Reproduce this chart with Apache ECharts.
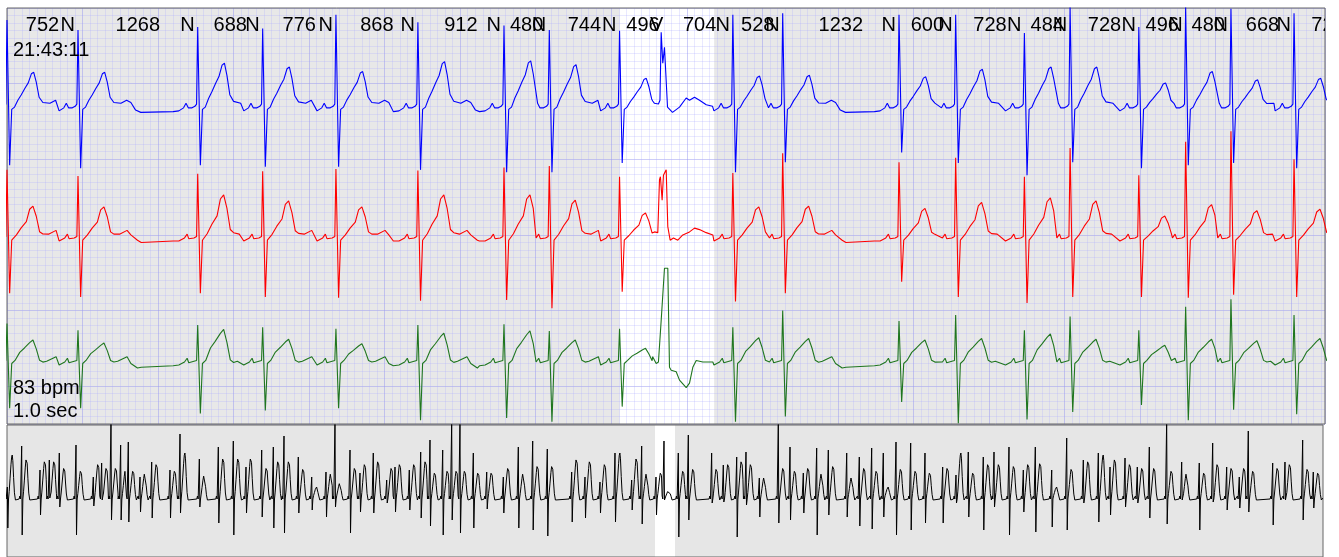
<!DOCTYPE html>
<html><head><meta charset="utf-8">
<script src="https://cdn.jsdelivr.net/npm/echarts@6/dist/echarts.min.js"></script>
<style>html,body{margin:0;padding:0;background:#fff}#c{width:1339px;height:557px}</style>
</head><body><div id="c"></div>
<script>
// ---------------- DATA ----------------
// RR intervals (ms) labelled above each beat; beat 0 sits at t = 0
const rrIntervals = [752, 1268, 688, 776, 868, 912, 480, 744, 496, 704, 528, 1232, 600, 728, 484, 728, 496, 480, 668, 720];
const beatTypes = ['N','N','N','N','N','N','N','N','N','V','N','N','N','N','N','N','N','N','N','N','N'];

// Normal-beat waveform shapes per lead: [ms from R, amplitude in grid boxes]; 'R','S','T' use per-beat values
const blueTemplate = [[-260,-0.6],[-200,-0.5],[-150,-0.1],[-124,0.5],[-100,-0.1],[-60,-0.1],[-30,0.1],[-12,0.4],[0,'R'],[28,'S'],[50,-0.3],[80,0.0],[115,0.9],[150,1.6],[190,2.5],[225,3.2],[258,4.4],[283,'T'],[310,3.3],[340,1.3],[380,0.6],[455,0.5],[515,0.9],[560,0.6],[610,-0.4],[665,-0.7]];
const redTemplate = [[-260,-0.4],[-200,-0.4],[-140,0.0],[-112,0.5],[-95,-0.1],[-40,0.0],[-12,0.2],[0,'R'],[28,'S'],[50,-0.3],[100,0.4],[150,1.3],[205,2.1],[240,3.7],[275,'T'],[310,2.8],[345,0.8],[380,0.5],[440,0.5],[520,1.0],[560,0.4],[630,-0.3],[670,-0.6]];
const greenTemplate = [[-260,-0.6],[-200,-0.5],[-140,-0.1],[-112,0.4],[-95,-0.2],[-40,0.0],[-12,0.1],[0,'R'],[28,'S'],[50,-0.3],[85,0.1],[135,1.0],[185,1.5],[240,2.1],[275,'T'],[310,1.4],[345,0.1],[380,-0.1],[420,0.0],[520,0.6],[560,-0.3],[630,-0.9],[670,-0.8]];
const blueTRef = 4.6, redTRef = 4.1, greenTRef = 2.4;

// Ventricular beat shapes (ms from its annotation time)
const blueVBeat = [[-145,0.8],[-126,0.5],[-84,0.4],[-68,0.9],[-55,9.9],[-38,5.8],[-20,7.9],[-2,7.9],[12,0.0],[65,-0.7],[139,0.0],[210,1.2],[245,0.9],[298,1.3],[351,0.9],[422,0.3],[489,0.1]];
const redVBeat = [[-145,0.4],[-126,0.8],[-91,0.7],[-73,7.7],[-63,8.1],[-45,5.0],[-31,8.3],[-2,9.0],[15,1.5],[40,-0.3],[75,0.0],[121,-0.3],[174,0.4],[245,0.8],[298,1.3],[351,1.1],[422,0.7],[492,0.4]];
const greenVBeat = [[-145,0.6],[-108,-0.3],[-84,-0.1],[-55,5.4],[-20,12.3],[15,12.3],[33,-0.8],[51,-1.2],[104,-1.4],[139,-2.5],[210,-3.5],[245,-2.9],[280,-0.8],[316,0.1],[386,-0.1],[492,-0.1]];

// Per-beat R peak, S trough and T peak (grid boxes); null at the V beat
const blueR = [11.5,10.2,10.6,10.4,12.2,11.2,10.8,10.2,10.1,null,12.2,12.4,12.2,12.2,9.8,13.3,10.6,13.3,13.0,12.4,11.0];
const blueS = [-7.7,-8.1,-7.7,-7.9,-7.9,-8.3,-8.6,-8.6,-7.4,null,-8.6,-7.3,-6.0,-7.4,-9.0,-7.3,-8.1,-7.7,-7.4,-8.1,-8.0];
const blueT = [4.6,4.6,5.8,5.3,4.7,6.0,6.1,5.6,3.8,null,4.1,4.2,4.0,5.0,5.3,5.3,3.2,4.7,3.6,3.8,4.5];
const redR = [9.0,8.2,8.5,8.8,9.1,8.9,9.3,9.5,8.1,null,8.6,11.2,10.0,10.6,8.1,11.9,8.3,12.7,14.1,10.4,9.0];
const redS = [-7.3,-7.8,-7.3,-7.8,-7.9,-8.3,-8.2,-9.3,-7.1,null,-8.4,-7.3,-5.8,-7.8,-8.6,-7.8,-7.8,-7.9,-7.5,-7.8,-7.8];
const redT = [4.2,4.1,5.7,4.9,4.1,5.7,5.7,5.0,3.3,null,4.1,4.2,3.9,4.7,5.3,4.9,2.9,4.4,3.6,3.8,4.2];
const greenR = [5.0,4.1,4.8,4.5,4.3,4.8,4.9,4.0,4.3,null,4.5,6.7,5.3,6.1,4.1,5.9,4.1,7.2,8.2,6.1,5.0];
const greenS = [-6.2,-6.2,-6.9,-6.5,-6.2,-7.8,-7.5,-8.0,-6.0,null,-8.0,-7.3,-5.4,-8.2,-7.7,-6.7,-5.8,-7.8,-6.4,-7.0,-7.0];
const greenT = [2.8,2.4,4.2,2.9,2.3,3.7,4.0,2.8,1.7,null,3.1,3.0,2.8,3.0,3.6,2.9,2.1,2.9,2.7,3.0,2.8];

// Highlighted (ventricular) stretch of the strip, ms
const highlightSpan = [6490, 7490];

// Overview strip: beat times (ms), R, S, T amplitudes
const stripBeatMs = [20,870,1956,2508,3100,4090,5115,5610,6164,6736,7190,7883,8576,9661,10254,11400,12525,13414,14166,15096,15785,16418,17266,18060,18907,19440,20330,20922,21710,22505,22997,23845,24520,25071,25824,26357,26849,27639,28433,29417,30306,31158,32024,33470,34258,35147,36036,37025,37618,38466,38940,39789,40382,41765,42456,43250,43800,44590,45716,46410,47198,47990,48680,49770,50517,51250,51938,52692,53562,54410,55458,56247,56976,57865,58500,59389,60238,60949,61921,62810,63794,64683,65377,66266,66994,67706,68734,69624,70667,71461,72291,73038,73572,75018,75746,76795,77424];
const stripR = [1.0,5.1,2.7,3.7,4.4,5.2,2.0,3.4,7.6,5.2,5.5,2.0,3.5,2.7,6.3,3.8,5.0,5.6,3.0,4.7,5.0,6.1,4.0,2.0,2.5,7.6,4.7,2.4,4.4,1.7,3.0,2.7,4.5,5.7,4.7,7.6,7.6,4.4,2.5,2.0,5.0,5.6,4.8,2.5,2.0,1.5,4.4,1.7,5.1,2.0,5.6,4.4,6.2,4.4,3.2,4.0,4.5,1.9,7.6,5.0,2.4,4.9,4.7,4.4,4.0,4.9,4.4,5.5,5.4,4.4,3.0,2.2,4.5,4.0,4.5,5.0,2.7,5.0,2.7,5.9,3.7,4.4,3.0,3.9,3.0,5.0,7.6,3.5,3.4,5.4,3.0,2.0,6.6,3.4,3.5,5.7,2.5];
const stripS = [-3.1,-3.8,-1.8,-0.1,-1.0,-3.8,-0.9,-0.3,-2.3,-2.3,-2.5,-1.5,-2.1,-2.1,-1.6,-1.0,-2.6,-3.8,-1.6,-2.0,-3.1,-3.6,-1.6,-1.3,-2.0,-1.0,-3.6,-1.5,-1.6,-0.6,-1.5,-1.3,-2.1,-2.9,-3.8,-2.3,-3.6,-3.1,-1.2,-1.6,-3.1,-3.3,-3.9,-2.5,-2.1,-1.6,-2.5,-1.3,-2.7,-1.8,-0.3,-4.0,-2.3,-0.6,-0.5,-4.0,-0.8,-2.0,-2.6,-2.3,-1.6,-3.8,-1.8,-2.0,-2.9,-3.2,-2.0,-3.8,-3.3,-2.6,-2.6,-0.6,-2.0,-3.3,-1.0,-3.8,-1.5,-3.5,-3.0,-3.3,-0.6,-2.5,-1.8,-1.0,-0.6,-2.1,-2.7,-0.3,-3.3,-0.5,-1.3,-1.1,-1.5,-2.8,-0.3,-2.3,-1.1];
const stripT = [4.2,3.9,3.7,3.7,3.0,2.7,3.4,3.0,3.0,2.7,2.7,2.4,3.4,2.7,4.4,2.2,4.0,4.0,4.0,3.0,3.7,3.7,2.9,1.0,2.4,1.4,3.0,3.4,3.7,3.0,3.4,3.4,3.7,2.5,2.7,2.7,2.7,2.5,2.5,3.0,2.4,3.2,3.2,3.9,3.7,3.4,4.4,4.0,2.4,2.5,0.7,2.7,2.9,2.9,3.4,3.7,3.4,2.0,3.0,2.7,3.0,2.4,3.2,2.0,3.0,2.7,1.0,2.9,2.7,2.5,3.0,4.4,2.5,3.4,3.4,3.2,3.4,3.5,1.0,2.9,3.7,4.2,3.9,3.4,3.0,3.0,2.7,2.4,2.5,3.4,3.0,3.0,2.7,3.0,3.4,2.9,2.5];
const stripTemplate = [[-150,-0.2],[-110,0.1],[-70,-0.2],[-25,-0.1],[0,'R'],[30,'S'],[70,-0.2],[110,0.4],[160,1.3],[215,2.3],[255,2.85],[290,'T'],[325,2.6],[370,1.4],[420,0.3],[480,-0.3],[560,-0.1]];
const stripTRef = 3.0;
const stripGap = [38407, 39592];

const clockText = '21:43:11';
const rateText = '83 bpm';
const scaleText = '1.0 sec';

// ---------------- BUILD ----------------
const X_MAX = 13960, STRIP_MAX = 78000;
const BASE = {blue: 13.1, red: 30.4, green: 46.7}; // lead offsets (grid boxes from top)
const LABEL_Y = 2.25;
const FONT = '20px "Liberation Sans", Arial, Helvetica, sans-serif';

const beatTimes = [0];
rrIntervals.forEach((rr, i) => beatTimes.push(beatTimes[i] + rr));

function preLen(rr) { return Math.min(260, 0.3 * rr); }

function buildLead(tpl, tRef, vTpl, rA, sA, tA, base) {
  const pts = [];
  for (let k = 0; k < beatTimes.length; k++) {
    const t = beatTimes[k];
    const pre = k === 0 ? 260 : preLen(rrIntervals[k - 1]);
    const end = k < rrIntervals.length ? rrIntervals[k] - preLen(rrIntervals[k]) : 700;
    const isV = beatTypes[k] === 'V';
    const shape = isV ? vTpl : tpl;
    for (const [off, val] of shape) {
      if (off < -pre || off >= end) continue;
      let v = val;
      if (!isV) {
        if (val === 'R') v = rA[k];
        else if (val === 'S') v = sA[k];
        else if (val === 'T') v = tA[k];
        else if (off >= 100 && off <= 390) v = val * tA[k] / tRef;
      }
      pts.push([t + off, base - v]);
    }
  }
  return pts;
}

function buildStrip() {
  const pts = [];
  const n = Math.min(stripBeatMs.length, stripR.length, stripS.length, stripT.length);
  for (let i = 0; i < n; i++) {
    const t = stripBeatMs[i];
    const prevRR = i > 0 ? t - stripBeatMs[i - 1] : 600;
    const nextRR = i < n - 1 ? stripBeatMs[i + 1] - t : 800;
    const pre = Math.min(150, 0.3 * prevRR);
    const end = i < n - 1 ? nextRR - Math.min(150, 0.3 * nextRR) : 700;
    for (const [off, val] of stripTemplate) {
      if (off < -pre || off >= end) continue;
      let v = val;
      if (val === 'R') v = stripR[i];
      else if (val === 'S') v = stripS[i];
      else if (val === 'T') v = stripT[i];
      else if (off >= 100 && off <= 420) v = val * stripT[i] / stripTRef;
      pts.push([t + off, v]);
    }
  }
  return pts;
}

const blueData = buildLead(blueTemplate, blueTRef, blueVBeat, blueR, blueS, blueT, BASE.blue);
const redData = buildLead(redTemplate, redTRef, redVBeat, redR, redS, redT, BASE.red);
const greenData = buildLead(greenTemplate, greenTRef, greenVBeat, greenR, greenS, greenT, BASE.green);
const stripData = buildStrip();

const labelData = [];
for (let k = 1; k < beatTimes.length; k++) {
  labelData.push([(beatTimes[k - 1] + beatTimes[k]) / 2, beatTimes[k]]);
}

const MAJOR = 'rgba(150,150,240,0.48)';
const MINOR = 'rgba(170,170,255,0.26)';

const chart = echarts.init(document.getElementById('c'), null, {renderer: 'canvas'});
const hidden = {axisLine: {show: false}, axisTick: {show: false}, axisLabel: {show: false}};
chart.setOption({
  animation: false,
  grid: [
    {left: 7, top: 8, width: 1318, height: 416, show: true, borderColor: '#666', borderWidth: 1, backgroundColor: 'transparent', z: 3},
    {left: 7, top: 425, width: 1316, height: 132, show: true, borderColor: '#666', borderWidth: 1, backgroundColor: 'transparent', z: 3}
  ],
  xAxis: [
    Object.assign({gridIndex: 0, type: 'value', min: 0, max: X_MAX, interval: 800, z: 1,
      splitLine: {show: true, lineStyle: {color: MAJOR, width: 1}},
      minorTick: {show: false, splitNumber: 10},
      minorSplitLine: {show: true, lineStyle: {color: MINOR, width: 1}}}, hidden),
    Object.assign({gridIndex: 1, type: 'value', min: 0, max: STRIP_MAX, splitLine: {show: false}}, hidden)
  ],
  yAxis: [
    Object.assign({gridIndex: 0, type: 'value', inverse: true, min: 0, max: 55, interval: 10, z: 1,
      splitLine: {show: true, lineStyle: {color: MAJOR, width: 1}},
      minorTick: {show: false, splitNumber: 10},
      minorSplitLine: {show: true, lineStyle: {color: MINOR, width: 1}}}, hidden),
    Object.assign({gridIndex: 1, type: 'value', min: -6.0, max: 7.2, splitLine: {show: false}}, hidden)
  ],
  series: [
    {type: 'line', xAxisIndex: 0, yAxisIndex: 0, data: [], z: -2, silent: true,
      markArea: {silent: true, z: -2, data: [
        [{xAxis: 0, itemStyle: {color: '#e8e8e8'}}, {xAxis: X_MAX}],
        [{xAxis: highlightSpan[0], itemStyle: {color: '#ffffff'}}, {xAxis: highlightSpan[1]}]
      ]}},
    {type: 'line', xAxisIndex: 1, yAxisIndex: 1, data: [], z: -2, silent: true,
      markArea: {silent: true, z: -2, data: [
        [{xAxis: 0, itemStyle: {color: '#e6e6e6'}}, {xAxis: STRIP_MAX}],
        [{xAxis: stripGap[0], itemStyle: {color: '#ffffff'}}, {xAxis: stripGap[1]}]
      ]}},
    {type: 'line', name: 'lead1', xAxisIndex: 0, yAxisIndex: 0, data: blueData, showSymbol: false, symbol: 'none', clip: true, silent: true,
      lineStyle: {color: '#0000ff', width: 1.1}},
    {type: 'line', name: 'lead2', xAxisIndex: 0, yAxisIndex: 0, data: redData, showSymbol: false, symbol: 'none', clip: true, silent: true,
      lineStyle: {color: '#ff0000', width: 1.1}},
    {type: 'line', name: 'lead3', xAxisIndex: 0, yAxisIndex: 0, data: greenData, showSymbol: false, symbol: 'none', clip: true, silent: true,
      lineStyle: {color: '#1f761f', width: 1.1}},
    {type: 'custom', xAxisIndex: 0, yAxisIndex: 0, clip: true, z: 5, silent: true, data: labelData,
      renderItem: function (params, api) {
        const k = params.dataIndex + 1;
        const mid = api.coord([api.value(0), LABEL_Y]);
        const bt = api.coord([api.value(1), LABEL_Y]);
        return {type: 'group', children: [
          {type: 'text', x: mid[0], y: mid[1], style: {text: String(rrIntervals[k - 1]), fill: '#000', font: FONT,
            align: 'center', verticalAlign: 'middle', textAlign: 'center', textVerticalAlign: 'middle'}},
          {type: 'text', x: bt[0] - 3, y: bt[1], style: {text: beatTypes[k], fill: '#000', font: FONT,
            align: 'right', verticalAlign: 'middle', textAlign: 'right', textVerticalAlign: 'middle'}}
        ]};
      }},
    {type: 'line', name: 'overview', xAxisIndex: 1, yAxisIndex: 1, data: stripData, showSymbol: false, symbol: 'none', clip: true, silent: true,
      lineStyle: {color: '#000', width: 1}}
  ],
  graphic: [
    {type: 'text', x: 13, y: 50, z: 100, style: {text: clockText, fill: '#000', font: FONT, verticalAlign: 'middle', textVerticalAlign: 'middle'}},
    {type: 'text', x: 13, y: 388, z: 100, style: {text: rateText, fill: '#000', font: FONT, verticalAlign: 'middle', textVerticalAlign: 'middle'}},
    {type: 'text', x: 13, y: 411, z: 100, style: {text: scaleText, fill: '#000', font: FONT, verticalAlign: 'middle', textVerticalAlign: 'middle'}}
  ]
});
</script></body></html>
